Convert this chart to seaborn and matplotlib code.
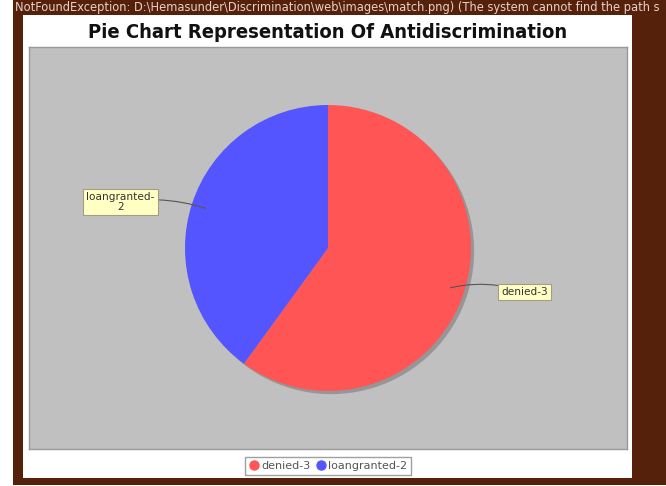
import matplotlib
matplotlib.use('Agg')
import numpy as np
import matplotlib.pyplot as plt
import seaborn as sns
from matplotlib.patches import Rectangle
from matplotlib.lines import Line2D

# Data
categories = ['denied', 'loangranted']
counts = [3, 2]
slice_colors = ['#ff5555', '#5555ff']
labels = [f'{c}-{n}' for c, n in zip(categories, counts)]

title = 'Pie Chart Representation Of Antidiscrimination'
error_text = (r'NotFoundException: D:\Hemasunder\Discrimination\web\images\match.png)'
              r' (The system cannot find the path s')

sns.set_style('white')
plt.rcParams['font.family'] = ['DejaVu Sans']

W, H = 666, 486
fig = plt.figure(figsize=(W / 100, H / 100), dpi=100)
fig.patch.set_facecolor('white')


def px_rect(x0, y0, x1, y1, **kw):
    # rectangle given in pixel coords (top-left origin)
    fig.patches.append(Rectangle((x0 / W, 1 - y1 / H), (x1 - x0) / W, (y1 - y0) / H,
                                 transform=fig.transFigure, figure=fig, **kw))


# brown frame and white panel
px_rect(13, 0, 666, 485, facecolor='#56210b', edgecolor='none', zorder=0)
px_rect(23, 15, 632, 478, facecolor='white', edgecolor='none', zorder=1)
fig.text(15 / W, 1 - 7.5 / H, error_text, fontsize=9.2, color='#e8d0c8',
         va='center', ha='left', fontstretch='condensed')

# plot area
ax = fig.add_axes([29 / W, 1 - 449 / H, (627 - 29) / W, (449 - 47) / H])
ax.set_zorder(2)
ax.set_facecolor('#c0c0c0')

R = 143.0
# shadow
ax.pie(counts, colors=['#858585', '#858585'], startangle=90, counterclock=False,
       center=(0.022, -0.022), radius=1.0, wedgeprops=dict(linewidth=0, alpha=0.7),
       frame=True)
wedges, _ = ax.pie(counts, colors=slice_colors, startangle=90, counterclock=False,
                   radius=1.0, wedgeprops=dict(linewidth=0), frame=True)
ax.set_xlim(-299 / R, 299 / R)
ax.set_ylim(-201 / R, 201 / R)
ax.set_aspect('auto')
ax.set_xticks([])
ax.set_yticks([])
for s in ax.spines.values():
    s.set_visible(True)
    s.set_color('#999999')
    s.set_linewidth(1.0)

# labels with leader lines
label_text = ['denied-3', 'loangranted-\n2']
label_pos = [(1.375, -0.31), (-1.45, 0.32)]
curv = [0.15, -0.12]
for w, txt, pos, c in zip(wedges, label_text, label_pos, curv):
    ang = np.deg2rad((w.theta1 + w.theta2) / 2)
    tip = (0.9 * np.cos(ang), 0.9 * np.sin(ang))
    ax.annotate(txt, xy=tip, xytext=pos, ha='center', va='center',
                fontsize=7.6, color='#333333', linespacing=0.95,
                bbox=dict(boxstyle='square,pad=0.3', facecolor='#ffffc4',
                          edgecolor='#a0a080', linewidth=0.8),
                arrowprops=dict(arrowstyle='-', color='#555555', lw=0.8,
                                connectionstyle=f'arc3,rad={c}',
                                shrinkA=0, shrinkB=0))

# title
fig.text(328 / W, 1 - 33 / H, title, ha='center', va='center',
         fontsize=14.5, fontweight='bold', color='#111111', fontstretch='condensed')

# legend
handles = [Line2D([], [], marker='o', linestyle='none', markersize=6.5,
                  markerfacecolor=c, markeredgecolor=c) for c in slice_colors]
leg = fig.legend(handles, labels, loc='center', bbox_to_anchor=(328 / W, 1 - 466 / H),
                 ncol=2, fontsize=8, frameon=True, fancybox=False,
                 handletextpad=0.1, columnspacing=0.5, borderpad=0.35,
                 handlelength=1.0)
leg.get_frame().set_edgecolor('#888888')
leg.get_frame().set_linewidth(1.0)
for t in leg.get_texts():
    t.set_color('#555555')

fig.savefig('out.png', dpi=100)
